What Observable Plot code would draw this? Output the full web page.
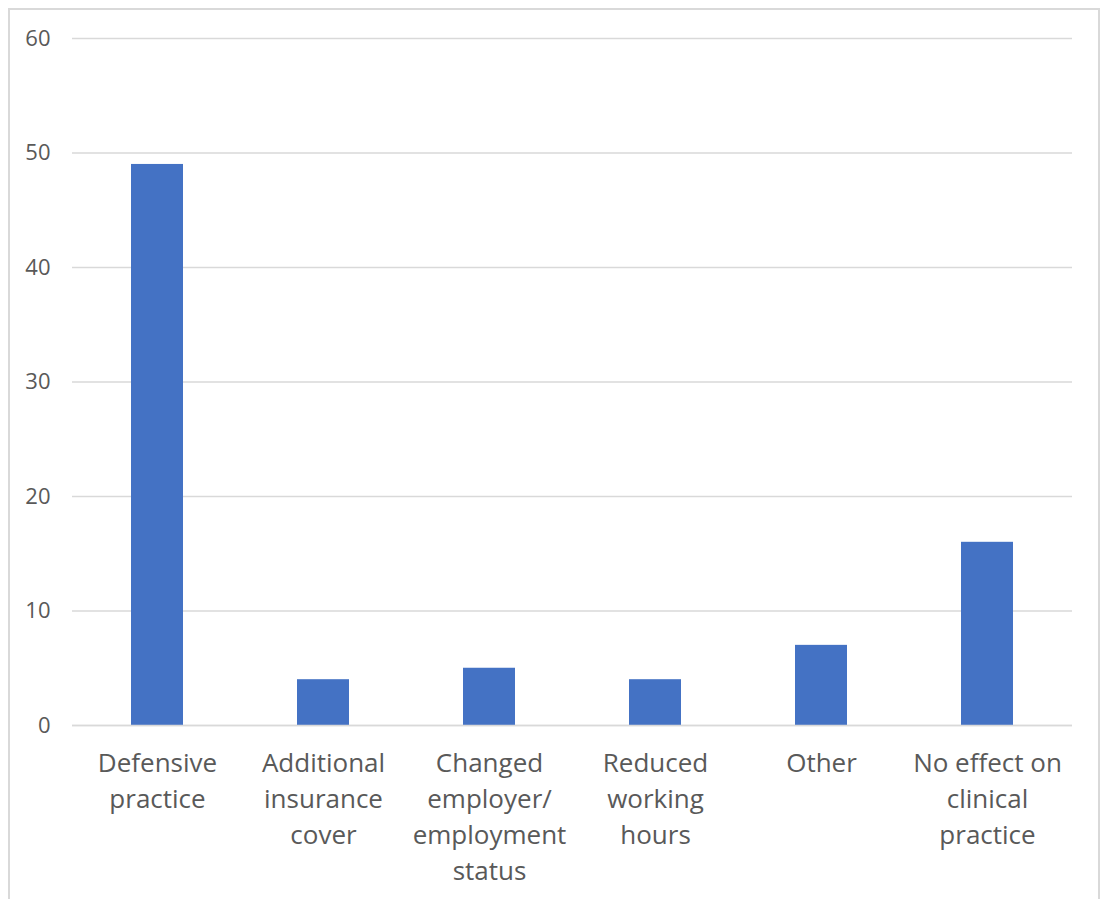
<!DOCTYPE html>
<html>
<head>
<meta charset="utf-8">
<script src="https://cdn.jsdelivr.net/npm/d3@7"></script>
<script src="https://cdn.jsdelivr.net/npm/@observablehq/plot@0.6"></script>
<style>
  html, body { margin: 0; padding: 0; background: #fff; }
  #wrap { position: relative; width: 1103px; height: 899px; overflow: hidden; }
  #frame { position: absolute; left: 8px; top: 8px; width: 1092px; height: 900px;
           border-left: 2px solid #d9d9d9; border-top: 2px solid #d9d9d9; border-right: 2px solid #d9d9d9;
           box-sizing: border-box; pointer-events: none; }
  svg { display: block; }
</style>
</head>
<body>
<div id="wrap"><div id="frame"></div></div>
<script>
const categories = [
  "Defensive\npractice",
  "Additional\ninsurance\ncover",
  "Changed\nemployer/\nemployment\nstatus",
  "Reduced\nworking\nhours",
  "Other",
  "No effect on\nclinical\npractice"
];
const values = [49, 4, 5, 4, 7, 16];
const yTicks = [0, 10, 20, 30, 40, 50, 60];

const data = categories.map((c, i) => ({category: c, value: values[i]}));

const chart = Plot.plot({
  width: 1103,
  height: 899,
  marginLeft: 72,
  marginRight: 31,
  marginTop: 38,
  marginBottom: 174,
  style: {fontFamily: "'Open Sans', sans-serif", color: "#595959", background: "transparent"},
  x: {domain: categories, paddingInner: 0.686, paddingOuter: 0.343, label: null},
  y: {domain: [0, 60], ticks: yTicks, label: null},
  marks: [
    Plot.gridY(yTicks, {stroke: "#d9d9d9", strokeOpacity: 1, strokeWidth: 1.5}),
    Plot.barY(data, {x: "category", y: "value", fill: "#4472C4"}),
    Plot.ruleY([0], {stroke: "#d9d9d9", strokeWidth: 1.5}),
    Plot.axisY(yTicks, {tickSize: 0, tickPadding: 22, fontSize: 22, fill: "#595959", label: null}),
    Plot.axisX({tickSize: 0, tickPadding: 21, fontSize: 26, lineHeight: 1.38, fill: "#595959", label: null})
  ]
});
document.getElementById("wrap").prepend(chart);
</script>
</body>
</html>
